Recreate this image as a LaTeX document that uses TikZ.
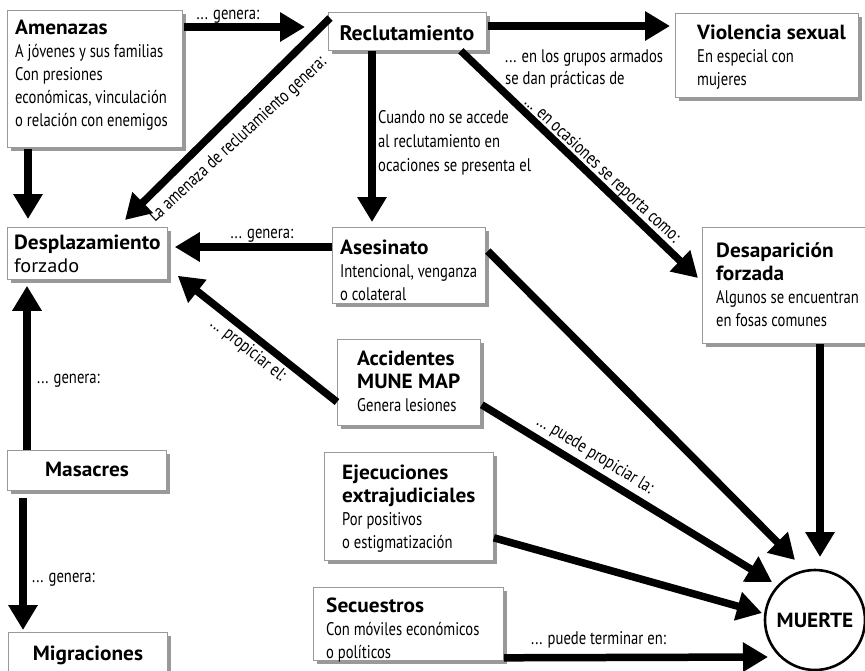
\documentclass[tikz,border=0pt]{standalone}
\usepackage{fontspec}
\setmainfont{PT Sans}
\newfontfamily\condfont[FakeStretch=0.8]{PT Sans}
\newfontfamily\titfont[FakeStretch=1.04]{PT Sans}
\usetikzlibrary{arrows.meta,calc,shadows}
\definecolor{boxgray}{HTML}{999999}
\newcommand\mytitle[1]{{\titfont\bfseries\fontsize{20.5}{23}\selectfont #1}}
\newcommand\fs{\rule{0pt}{15pt}}
\tikzset{
  box/.style={draw=boxgray, line width=0.8pt, fill=white, inner sep=0pt, anchor=north west,
    drop shadow={shadow xshift=4pt, shadow yshift=-4pt, fill=boxgray, opacity=1}},
  txt/.style={anchor=north west, inner sep=0pt, align=left, font=\condfont\fontsize{18.3}{23}\selectfont},
  lbl/.style={inner sep=0pt, font=\condfont\fontsize{18.3}{22}\selectfont},
  arr/.style={line width=7.5pt, -{Triangle[length=25pt,width=28pt]}},
}
\begin{document}
\begin{tikzpicture}[x=1pt,y=-1pt]
\clip (0,0) rectangle (865,670);
\fill[white] (0,0) rectangle (865,670);
% boxes
\node[box, minimum width=175, minimum height=137] (amen) at (7,10) {};
\node[box, minimum width=158, minimum height=38] (recl) at (328,12) {};
\node[box, minimum width=183, minimum height=84] (viol) at (675,13) {};
\node[box, minimum width=160, minimum height=52] (desp) at (7,227) {};
\node[box, minimum width=153, minimum height=76] (ases) at (332,227) {};
\node[box, minimum width=180, minimum height=116] (desa) at (702,227) {};
\node[box, minimum width=143, minimum height=86] (acci) at (337,339) {};
\node[box, minimum width=159, minimum height=40] (masa) at (7,450) {};
\node[box, minimum width=169, minimum height=108] (ejec) at (324,452) {};
\node[box, minimum width=190, minimum height=73] (secu) at (313,587) {};
\node[box, minimum width=159, minimum height=50] (migr) at (8,632) {};
\node[circle, draw=black, line width=2.6pt, fill=white, minimum size=100, inner sep=0pt] (muer) at (815,620) {};
% texts
\node[txt] (tamen) at (15,19) {\fs\mytitle{Amenazas}\\A jóvenes y sus familias\\Con presiones\\económicas, vinculación\\o relación con enemigos};
\node[anchor=base, inner sep=0pt] (trecl) at (407,40) {{\titfont\bfseries\fontsize{21}{23}\selectfont Reclutamiento}};
\node[txt] (tviol) at (697,24) {\fs\mytitle{Violencia sexual}\\En especial con\\mujeres};
\node[txt] (tdesp) at (14,234) {\fs\mytitle{Desplazamiento}\\{\titfont\fontsize{19.5}{23}\selectfont forzado}};
\node[txt] (tases) at (340,239) {\fs\mytitle{Asesinato}\\Intencional, venganza\\o colateral};
\node[txt] (tdesa) at (716,242) {\fs\mytitle{Desaparición}\\\mytitle{forzada}\\Algunos se encuentran\\en fosas comunes};
\node[txt] (tacci) at (357,350) {\fs\mytitle{Accidentes}\\\mytitle{MUNE MAP}\\Genera lesiones};
\node[anchor=base, inner sep=0pt] (tmasa) at (87,476) {\mytitle{Masacres}};
\node[txt] (tejec) at (342,464) {\fs\mytitle{Ejecuciones}\\\mytitle{extrajudiciales}\\Por positivos\\o estigmatización};
\node[txt] (tsecu) at (326,597) {\fs\mytitle{Secuestros}\\Con móviles económicos\\o políticos};
\node[anchor=base, inner sep=0pt] (tmigr) at (88,660) {\mytitle{Migraciones}};
\node[inner sep=0pt] (tmuer) at (muer.center) {\mytitle{MUERTE}};
% connectors
\draw[arr] ($(amen.north east)+(1,17)$) -- ($(recl.north west)+(-23,15)$);
\draw[arr] ($(amen.south west)+(21,1)$) -- ($(desp.north west)+(21,-8)$);
\draw[arr] ($(recl.north west)+(2,6)$) -- ($(desp.north west)+(118,-7)$);
\draw[arr] ($(recl.north east)+(1,14)$) -- ($(viol.north west)+(-5,13)$);
\draw[arr] ($(recl.south west)+(44,0)$) -- ($(ases.north west)+(40,-5)$);
\draw[arr] ($(recl.south east)+(-26,0)$) -- ($(desa.north west)+(-4,51)$);
\draw[arr] ($(ases.north west)+(0,20)$) -- ($(desp.north east)+(7,20)$);
\draw[arr] ($(acci.north west)+(0,63)$) -- ($(desp.south east)+(10,-4)$);
\draw[arr] ($(masa.north west)+(20,0)$) -- ($(desp.south west)+(20,6)$);
\draw[arr] ($(masa.south west)+(16,7)$) -- ($(migr.north west)+(15,-2)$);
\draw[arr] ($(ases.north east)+(2,24)$) -- ($(muer.center)+(-20,-60)$);
\draw[arr] ($(acci.south east)+(1,-21)$) -- ($(muer.center)+(-43,-38)$);
\draw[arr] ($(ejec.south east)+(0,-23)$) -- ($(muer.center)+(-53,-7)$);
\draw[arr] ($(secu.south east)+(0,-3)$) -- ($(muer.center)+(-47,37)$);
\draw[arr] ($(desa.south west)+(118,0)$) -- ($(muer.center)+(5,-63)$);
% labels
\node[lbl] (l1) at (228,17) {... genera:};
\node[lbl, rotate=42.8] (l2) at (238,140) {La amenaza de reclutamiento genera:};
\node[txt, font=\condfont\fontsize{18.3}{22}\selectfont] (l4) at (505,47) {\fs... en los grupos armados\\se dan prácticas de};
\node[txt, font=\condfont\fontsize{18.3}{24}\selectfont] (l5) at (378,108) {\fs Cuando no se accede\\al reclutamiento en\\ocaciones se presenta el};
\node[lbl, rotate=-43] (l6) at (602,170) {... en ocasiones se reporta como:};
\node[lbl] (l7) at (262,236) {... genera:};
\node[lbl, rotate=-38.4] (l8) at (248,350) {... propiciar el:};
\node[lbl, anchor=west] (l9) at (37,381) {... genera:};
\node[lbl, anchor=west] (l10) at (32,580) {... genera:};
\node[lbl, rotate=-31.5] (l12) at (595,455) {... puede propiciar la:};
\node[lbl, anchor=west] (l14) at (531,640) {... puede terminar en:};
\end{tikzpicture}
\end{document}
